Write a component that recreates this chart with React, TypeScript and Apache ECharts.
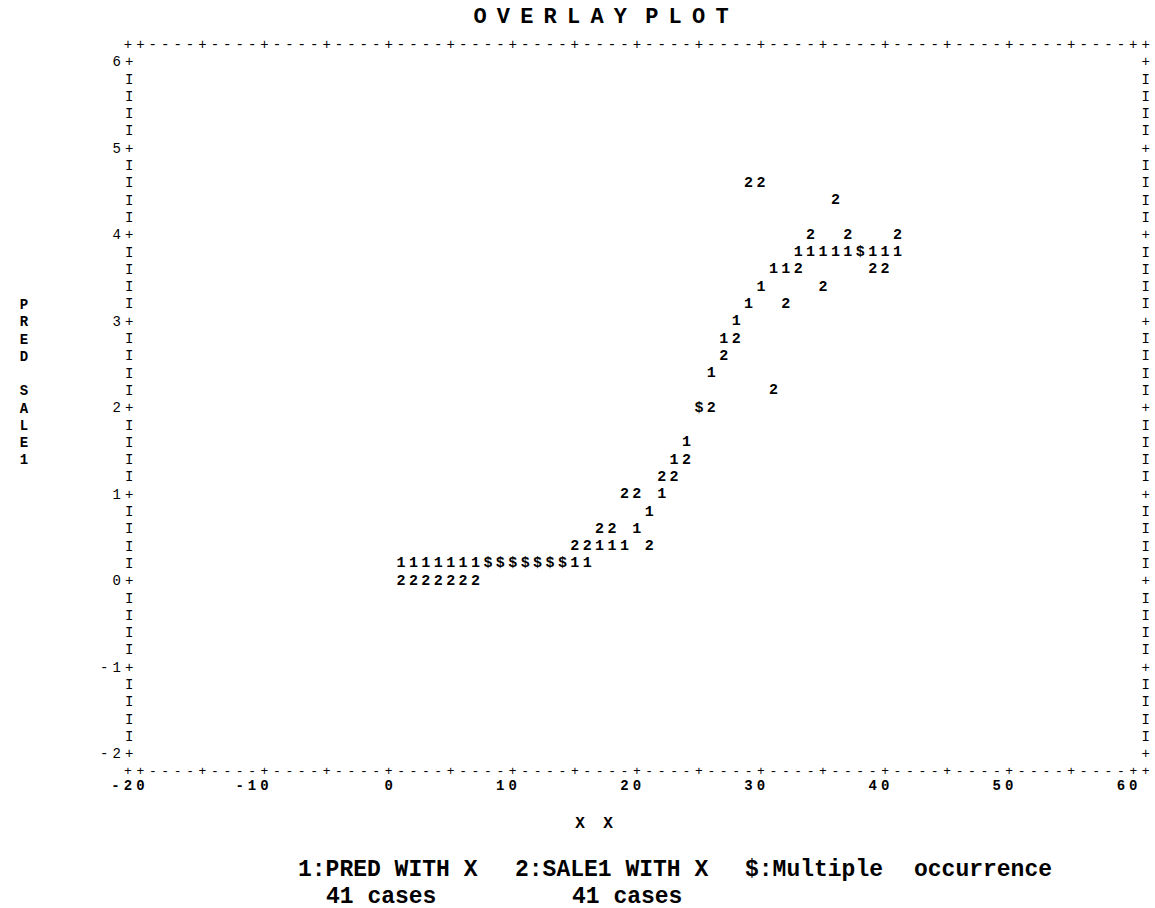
import { useEffect, useRef } from 'react';
import * as echarts from 'echarts';

const MONO = '"Liberation Mono", "Courier New", monospace';

// ---- data ----
const xValues = [1, 2, 3, 4, 5, 6, 7, 8, 9, 10, 11, 12, 13, 14, 15, 16, 17, 18, 19, 20,
  21, 22, 23, 24, 25, 26, 27, 28, 29, 30, 31, 32, 33, 34, 35, 36, 37, 38, 39, 40, 41];
const predValues = [0.2, 0.2, 0.2, 0.2, 0.2, 0.2, 0.2, 0.2, 0.2, 0.2, 0.2, 0.2, 0.2, 0.2, 0.2, 0.2,
  0.4, 0.4, 0.4, 0.6, 0.8, 1.0, 1.4, 1.6, 2.0, 2.4, 2.8, 3.0, 3.2, 3.4, 3.6, 3.6,
  3.8, 3.8, 3.8, 3.8, 3.8, 3.8, 3.8, 3.8, 3.8];
const sale1Values = [0.0, 0.0, 0.0, 0.0, 0.0, 0.0, 0.0, 0.2, 0.2, 0.2, 0.2, 0.2, 0.2, 0.2,
  0.4, 0.4, 0.6, 0.6, 1.0, 1.0, 0.4, 1.2, 1.2, 1.4, 2.0, 2.0, 2.6, 2.8, 4.6, 4.6,
  2.2, 3.2, 3.6, 4.0, 3.4, 4.4, 4.0, 3.8, 3.6, 3.6, 4.0];
const xTickValues = [-20, -10, 0, 10, 20, 30, 40, 50, 60];
const yTickValues = [-2, -1, 0, 1, 2, 3, 4, 5, 6];
const titleText = 'OVERLAY PLOT';
const yAxisNameWords = ['PRED', 'SALE1'];
const xAxisNameText = 'X X';
const legendTexts = ['1:PRED WITH X', '2:SALE1 WITH X', '$:Multiple', 'occurrence'];
const caseTexts = ['41 cases', '41 cases'];
const symbolPred = '1';
const symbolSale = '2';
const symbolBoth = '$';

// ---- axis extents (border rows / columns) ----
const X_MIN = -21;
const X_MAX = 61;
const Y_MIN = -2.2;
const Y_MAX = 6.2;

const near = (a: number, b: number) => Math.abs(a - b) < 1e-6;
const isInt = (v: number) => near(v, Math.round(v));
const cells = (s: string, key = 'c') => s.split('').map((ch) => `{${key}|${ch}}`).join('');

export default function App() {
  const ref = useRef<HTMLDivElement>(null);

  useEffect(() => {
    if (!ref.current) return;
    const chart = echarts.init(ref.current, null, { renderer: 'svg' });

    const predOnly: number[][] = [];
    const saleOnly: number[][] = [];
    const both: number[][] = [];
    xValues.forEach((x, i) => {
      if (near(predValues[i], sale1Values[i])) {
        both.push([x, predValues[i]]);
      } else {
        predOnly.push([x, predValues[i]]);
        saleOnly.push([x, sale1Values[i]]);
      }
    });

    const CELL = 12.463;
    const borderFont = {
      fontFamily: MONO,
      fontSize: 14,
      lineHeight: 10,
      color: '#000',
      fontWeight: 'normal' as const,
    };
    const cellRich = (w: number, size: number, weight: string, lh: number) => ({
      c: {
        width: w,
        align: 'center',
        fontFamily: MONO,
        fontSize: size,
        fontWeight: weight,
        color: '#000',
        lineHeight: lh,
      },
    });

    const borderX = (v: number) => {
      const r = Math.round(v);
      if (r === X_MIN || r === X_MAX || r % 5 === 0) return '+';
      return '-';
    };

    const baseX = {
      type: 'value',
      min: X_MIN,
      max: X_MAX,
      interval: 1,
      axisLine: { show: false },
      axisTick: { show: false },
      splitLine: { show: false },
    };
    const baseY = {
      type: 'value',
      min: Y_MIN,
      max: Y_MAX,
      interval: 0.2,
      axisLine: { show: false },
      axisTick: { show: false },
      splitLine: { show: false },
    };

    const labelStyle = (ch: string) => ({
      show: true,
      position: 'inside',
      formatter: ch,
      color: '#000',
      opacity: 1,
      fontFamily: MONO,
      fontSize: 15,
      lineHeight: 14,
      fontWeight: 'bold',
    });

    const mkSeries = (name: string, data: number[][], ch: string) => ({
      name,
      type: 'scatter',
      data,
      symbol: 'circle',
      symbolSize: 1,
      silent: true,
      itemStyle: { color: 'rgba(0,0,0,0)' },
      label: labelStyle(ch),
      emphasis: { disabled: true },
    });

    const titleRich = titleText
      .split('')
      .map((ch) => (ch === ' ' ? '{s| }' : `{t|${ch}}`))
      .join('');

    const legendX = [298, 515, 745, 914];
    const caseX = [326, 572];
    const LEGEND_FONT = 23;

    const graphic: any[] = [
      {
        type: 'text',
        x: 601,
        y: 17,
        style: {
          text: titleRich,
          align: 'center',
          verticalAlign: 'middle',
          rich: {
            t: { width: 23.4, align: 'center', fontFamily: MONO, fontSize: 22, fontWeight: 'bold', fill: '#000' },
            s: { width: 8, align: 'center', fontFamily: MONO, fontSize: 22, fontWeight: 'bold', fill: '#000' },
          },
        },
      },
      {
        type: 'text',
        x: 24,
        y: 296.4,
        style: {
          text: yAxisNameWords.map((w) => w.split('').join('\n')).join('\n\n'),
          align: 'center',
          verticalAlign: 'top',
          lineHeight: 17.25,
          fontFamily: MONO,
          fontSize: 14,
          fontWeight: 'bold',
          fill: '#000',
        },
      },
      {
        type: 'text',
        x: 594,
        y: 824,
        style: {
          text: cells(xAxisNameText),
          align: 'center',
          verticalAlign: 'middle',
          rich: { c: { width: 14, align: 'center', fontFamily: MONO, fontSize: 16, fontWeight: 'bold', fill: '#000' } },
        },
      },
      ...legendTexts.map((t, i) => ({
        type: 'text',
        x: legendX[i],
        y: 870,
        style: {
          text: t,
          align: 'left',
          verticalAlign: 'middle',
          fontFamily: MONO,
          fontSize: LEGEND_FONT,
          lineHeight: 20,
          fontWeight: 'bold',
          fill: '#000',
        },
      })),
      ...caseTexts.map((t, i) => ({
        type: 'text',
        x: caseX[i],
        y: 896.5,
        style: {
          text: t,
          align: 'left',
          verticalAlign: 'middle',
          fontFamily: MONO,
          fontSize: LEGEND_FONT,
          lineHeight: 20,
          fontWeight: 'bold',
          fill: '#000',
        },
      })),
    ];

    chart.setOption({
      animation: false,
      backgroundColor: '#fff',
      grid: { left: 128, right: 5, top: 45, bottom: 136.5, containLabel: false },
      xAxis: [
        {
          ...baseX,
          position: 'top',
          axisLabel: {
            ...borderFont,
            margin: 0,
            verticalAlign: 'middle',
            showMinLabel: true,
            showMaxLabel: true,
            formatter: borderX,
          },
        },
        {
          ...baseX,
          position: 'bottom',
          axisLabel: {
            ...borderFont,
            fontSize: 13,
            margin: 0,
            verticalAlign: 'middle',
            showMinLabel: true,
            showMaxLabel: true,
            formatter: borderX,
          },
        },
        {
          ...baseX,
          position: 'bottom',
          axisLabel: {
            ...borderFont,
            margin: 14,
            verticalAlign: 'middle',
            showMinLabel: true,
            showMaxLabel: true,
            rich: cellRich(CELL, 14, 'bold', 11),
            formatter: (v: number) => {
              const r = Math.round(v);
              if (!isInt(v) || xTickValues.indexOf(r) < 0) return '';
              const s = String(r);
              return cells(s) + cells(' '.repeat(s.length - 1));
            },
          },
        },
      ],
      yAxis: [
        {
          ...baseY,
          position: 'left',
          axisLabel: {
            ...borderFont,
            margin: -7.5,
            align: 'right',
            verticalAlign: 'middle',
            showMinLabel: true,
            showMaxLabel: true,
            rich: cellRich(12.5, 14, 'normal', 12),
            formatter: (v: number) => {
              if (near(v, Y_MIN) || near(v, Y_MAX)) return '';
              if (isInt(v)) {
                const r = Math.round(v);
                if (yTickValues.indexOf(r) >= 0) return cells(String(r === 0 ? 0 : r) + '+');
                return cells('+');
              }
              return cells('I');
            },
          },
        },
        {
          ...baseY,
          position: 'right',
          axisLabel: {
            ...borderFont,
            margin: -6.25,
            align: 'left',
            verticalAlign: 'middle',
            showMinLabel: true,
            showMaxLabel: true,
            rich: cellRich(12.5, 14, 'normal', 12),
            formatter: (v: number) => {
              if (near(v, Y_MIN) || near(v, Y_MAX)) return '';
              return cells(isInt(v) ? '+' : 'I');
            },
          },
        },
      ],
      graphic,
      series: [
        mkSeries('PRED', predOnly, symbolPred),
        mkSeries('SALE1', saleOnly, symbolSale),
        mkSeries('Multiple', both, symbolBoth),
      ],
    });

    return () => chart.dispose();
  }, []);

  return (
    <div
      ref={ref}
      style={{ position: 'absolute', left: 0, top: 0, width: 1155, height: 908, background: '#fff' }}
    />
  );
}
